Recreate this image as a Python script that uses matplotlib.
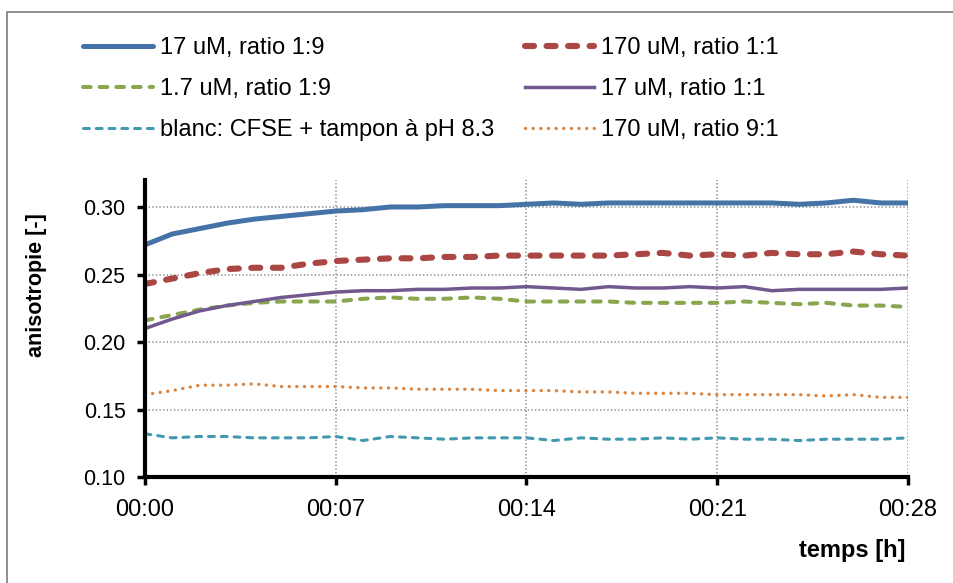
import matplotlib
matplotlib.use("Agg")
import matplotlib.pyplot as plt
from matplotlib.patches import Rectangle

plt.rcParams['font.family'] = ['Liberation Sans', 'DejaVu Sans']
plt.rcParams['lines.scale_dashes'] = False

# temps en minutes (une mesure par minute)
minutes = list(range(29))

s_17_19 = [0.272, 0.280, 0.284, 0.288, 0.291, 0.293, 0.295, 0.297, 0.298, 0.300,
           0.300, 0.301, 0.301, 0.301, 0.302, 0.303, 0.302, 0.303, 0.303, 0.303,
           0.303, 0.303, 0.303, 0.303, 0.302, 0.303, 0.305, 0.303, 0.303]
s_170_11 = [0.243, 0.247, 0.251, 0.254, 0.255, 0.255, 0.258, 0.260, 0.261, 0.262,
            0.262, 0.263, 0.263, 0.264, 0.264, 0.264, 0.264, 0.264, 0.265, 0.266,
            0.264, 0.265, 0.264, 0.266, 0.265, 0.265, 0.267, 0.265, 0.264]
s_17_19_dil = [0.216, 0.220, 0.224, 0.227, 0.229, 0.230, 0.230, 0.230, 0.232, 0.233,
               0.232, 0.232, 0.233, 0.232, 0.230, 0.230, 0.230, 0.230, 0.229, 0.229,
               0.229, 0.229, 0.230, 0.229, 0.228, 0.229, 0.227, 0.227, 0.226]
s_17_11 = [0.210, 0.217, 0.223, 0.227, 0.230, 0.233, 0.235, 0.237, 0.238, 0.238,
           0.239, 0.239, 0.240, 0.240, 0.241, 0.240, 0.239, 0.241, 0.240, 0.240,
           0.241, 0.240, 0.241, 0.238, 0.239, 0.239, 0.239, 0.239, 0.240]
s_blanc = [0.132, 0.129, 0.130, 0.130, 0.129, 0.129, 0.129, 0.130, 0.127, 0.130,
           0.129, 0.128, 0.129, 0.129, 0.129, 0.127, 0.129, 0.128, 0.128, 0.129,
           0.128, 0.129, 0.128, 0.128, 0.127, 0.128, 0.128, 0.128, 0.129]
s_170_91 = [0.161, 0.164, 0.168, 0.168, 0.169, 0.167, 0.167, 0.167, 0.166, 0.166,
            0.165, 0.165, 0.165, 0.164, 0.164, 0.164, 0.163, 0.163, 0.162, 0.162,
            0.162, 0.161, 0.161, 0.161, 0.161, 0.160, 0.161, 0.159, 0.159]

labels = ['17 uM, ratio 1:9', '170 uM, ratio 1:1', '1.7 uM, ratio 1:9',
          '17 uM, ratio 1:1', 'blanc: CFSE + tampon à pH 8.3', '170 uM, ratio 9:1']
xticks = [0, 7, 14, 21, 28]
yticks = [0.10, 0.15, 0.20, 0.25, 0.30]

fig = plt.figure(figsize=(9.54, 5.83), dpi=100)
ax = fig.add_axes([145 / 954, 106 / 583, 763 / 954, 297 / 583])

# cadre du graphique
fig.patches.append(Rectangle((7 / 954, -0.1), 1.2, 1.1 - 12 / 583,
                             transform=fig.transFigure, fill=False,
                             edgecolor='#868686', lw=1.3, zorder=0))

ax.grid(True, color='#8c8c8c', linestyle=(0, (1.0, 1.6)), lw=1.1)
ax.set_axisbelow(True)

l1, = ax.plot(minutes, s_17_19, color='#4572A7', lw=3.6, solid_capstyle='round')
l2, = ax.plot(minutes, s_170_11, color='#AA4643', lw=4.4,
              linestyle=(0, (6.5, 9.0)), dash_capstyle='round')
l3, = ax.plot(minutes, s_17_19_dil, color='#89A54E', lw=2.9,
              linestyle=(0, (5.5, 6.5)), dash_capstyle='round')
l4, = ax.plot(minutes, s_17_11, color='#71588F', lw=2.5)
l5, = ax.plot(minutes, s_blanc, color='#4198AF', lw=2.2,
              linestyle=(0, (4.2, 5.0)), dash_capstyle='round')
l6, = ax.plot(minutes, s_170_91, color='#DB843D', lw=2.4,
              linestyle=(0, (0.1, 5.4)), dash_capstyle='round')

ax.set_xlim(0, 28)
ax.set_ylim(0.10, 0.32)
ax.set_xticks(xticks)
ax.set_xticklabels(['00:%02d' % m for m in xticks])
ax.set_yticks(yticks)
ax.set_yticklabels(['%.2f' % v for v in yticks])

for side in ['top', 'right']:
    ax.spines[side].set_visible(False)
for side in ['left', 'bottom']:
    ax.spines[side].set_linewidth(3)
ax.tick_params(axis='both', direction='out', length=6, width=2.5, pad=8)
ax.tick_params(axis='x', labelsize=17, pad=10)
ax.tick_params(axis='y', labelsize=15.5)

ax.set_ylabel('anisotropie [-]', fontsize=15.5, fontweight='bold')
ax.yaxis.set_label_coords(-0.128, 0.645)
fig.text(906 / 954, 1 - 550 / 583, 'temps [h]', fontsize=17,
         fontweight='bold', ha='right', va='center')

handles = [l1, l3, l5, l2, l4, l6]
leg_labels = [labels[0], labels[2], labels[4], labels[1], labels[3], labels[5]]
fig.legend(handles, leg_labels, loc='upper left',
           bbox_to_anchor=(83 / 954, 1 - 37 / 583), ncol=2, frameon=False,
           fontsize=17, handlelength=2.95, handletextpad=0.3,
           columnspacing=1.3, labelspacing=0.8, borderpad=0, borderaxespad=0)

fig.savefig('out.png', dpi=100)
